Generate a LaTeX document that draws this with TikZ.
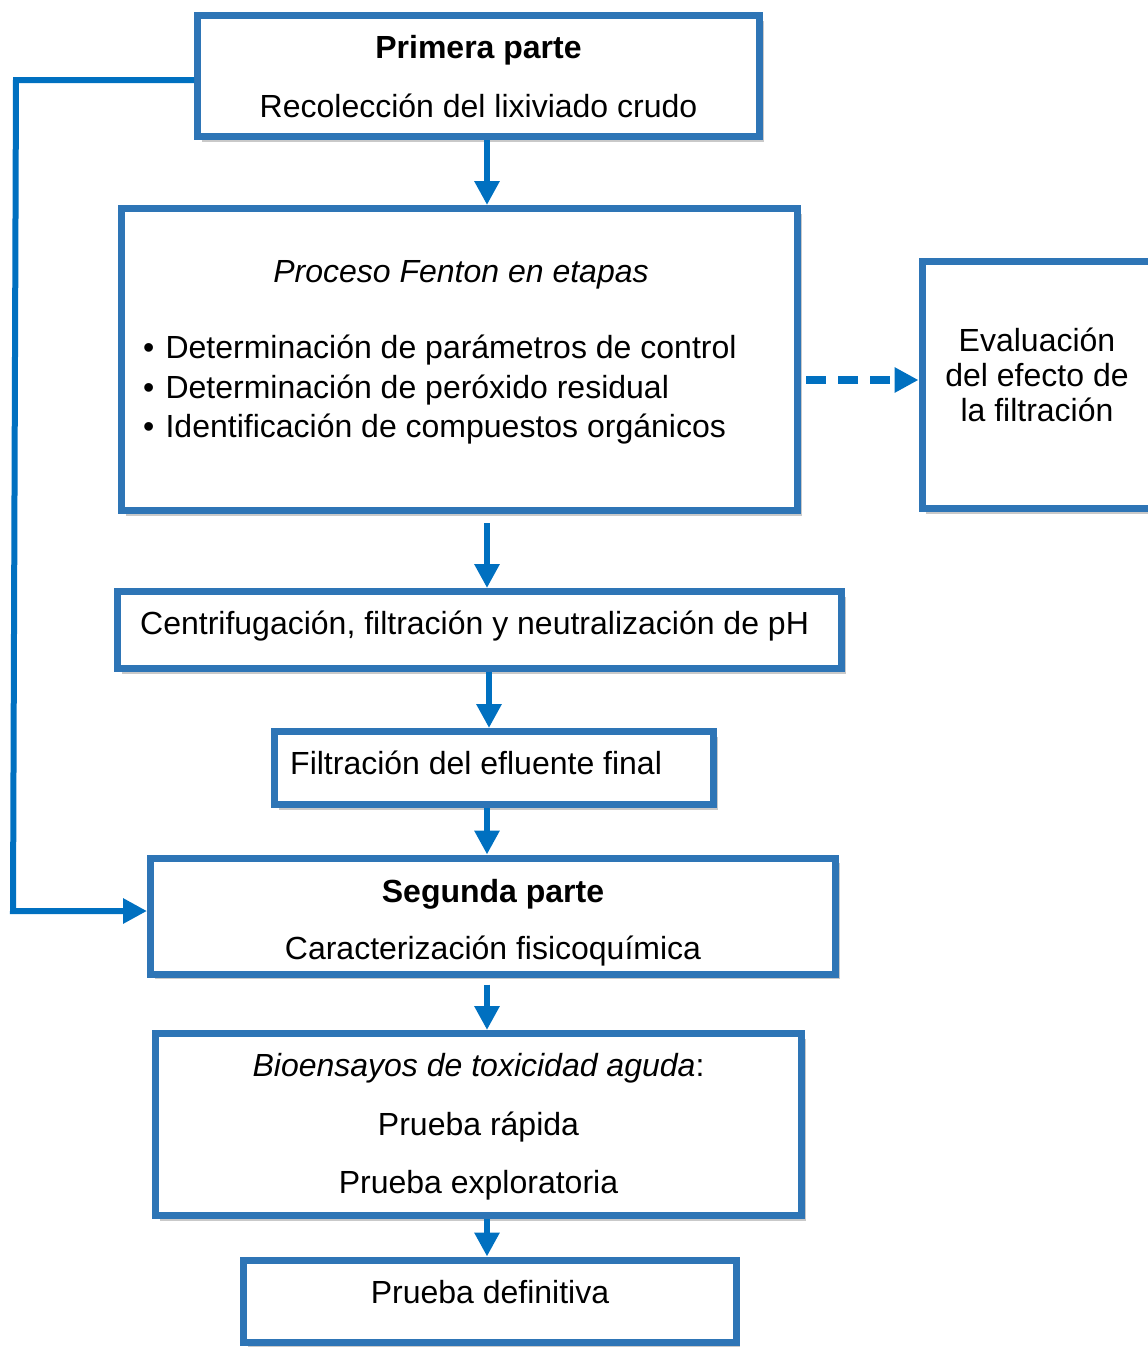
\documentclass[tikz,border=0pt]{standalone}
\usepackage{fontspec}
\setmainfont{Liberation Sans}
\usetikzlibrary{arrows.meta,shadows,calc}
\definecolor{boxblue}{HTML}{2E75B6}
\definecolor{arrblue}{HTML}{0070C0}
\begin{document}
\begin{tikzpicture}[x=1pt,y=-1pt,
  box/.style={draw=boxblue, line width=7pt, fill=white, inner sep=0pt,
    drop shadow={shadow xshift=4pt, shadow yshift=-5pt, opacity=0.3, fill=black!70}},
  txt/.style={font=\fontsize{32}{35}\selectfont, inner sep=0pt, anchor=base},
  txtl/.style={txt, anchor=base west},
  arr/.style={draw=arrblue, line width=6pt, -{Triangle[length=24pt,width=24pt]}}]
\useasboundingbox (0,0) rectangle (1148,1349);
\clip (0,0) rectangle (1148,1349);

% boxes
\node[box, minimum width=562pt, minimum height=121pt] (b1) at (478.5,76) {};
\node[box, minimum width=676pt, minimum height=302pt] (b2) at (459.5,359.5) {};
\node[box, minimum width=238pt, minimum height=247.5pt] (b3) at (1041,384.75) {};
\node[box, minimum width=724pt, minimum height=77pt] (b4) at (479.5,630) {};
\node[box, minimum width=439pt, minimum height=73pt] (b5) at (494,768) {};
\node[box, minimum width=685pt, minimum height=116pt] (b6) at (493,916) {};
\node[box, minimum width=646pt, minimum height=182pt] (b7) at (478.5,1124.5) {};
\node[box, minimum width=492.5pt, minimum height=82pt] (b8) at (489.75,1301) {};

% texts
\node[txt] (t1a) at (478.5,58) {\textbf{Primera parte}};
\node[txt] (t1b) at (478.5,117) {Recolección del lixiviado crudo};
\node[txt] (t2a) at (461,282) {\textit{Proceso Fenton en etapas}};
\node[txtl] (t2b) at (143,358) {•\hspace{0.35em}Determinación de parámetros de control};
\node[txtl] (t2c) at (143,398) {•\hspace{0.35em}Determinación de peróxido residual};
\node[txtl] (t2d) at (143,437) {•\hspace{0.35em}Identificación de compuestos orgánicos};
\node[txt] (t3a) at (1037,351) {Evaluación};
\node[txt] (t3b) at (1037,386) {del efecto de};
\node[txt] (t3c) at (1037,421) {la filtración};
\node[txtl] (t4) at (140,634) {Centrifugación, filtración y neutralización de pH};
\node[txtl] (t5) at (290,774) {Filtración del efluente final};
\node[txt] (t6a) at (493,902) {\textbf{Segunda parte}};
\node[txt] (t6b) at (493,959) {Caracterización fisicoquímica};
\node[txt] (t7a) at (478.5,1076) {\textit{Bioensayos de toxicidad aguda}:};
\node[txt] (t7b) at (478.5,1135) {Prueba rápida};
\node[txt] (t7c) at (478.5,1193) {Prueba exploratoria};
\node[txt] (t8) at (490,1303) {Prueba definitiva};

% connectors
\coordinate (ax) at (487,0);
\coordinate (ax2) at (489,0);
\draw[arr] (b1.south -| ax) -- (b2.north -| ax);
\draw[arr, shorten <=9pt] (b2.south -| ax) -- (b4.north -| ax);
\draw[arr] (b4.south -| ax2) -- (b5.north -| ax2);
\draw[arr] (b5.south -| ax) -- (b6.north -| ax);
\draw[arr, shorten <=7pt] (b6.south -| ax) -- (b7.north -| ax);
\draw[arr] (b7.south -| ax) -- (b8.north -| ax);

\coordinate (dy) at (0,380);
\draw[arr, line width=8pt, dash pattern=on 20pt off 12pt, shorten <=5pt] (b2.east |- dy) -- (b3.west |- dy);

\coordinate (c1) at (16,80);
\coordinate (c2) at (13,911);
\draw[arr] (b1.west |- c1) -- (c1) -- (c2) -- (b6.west |- c2);
\end{tikzpicture}
\end{document}
